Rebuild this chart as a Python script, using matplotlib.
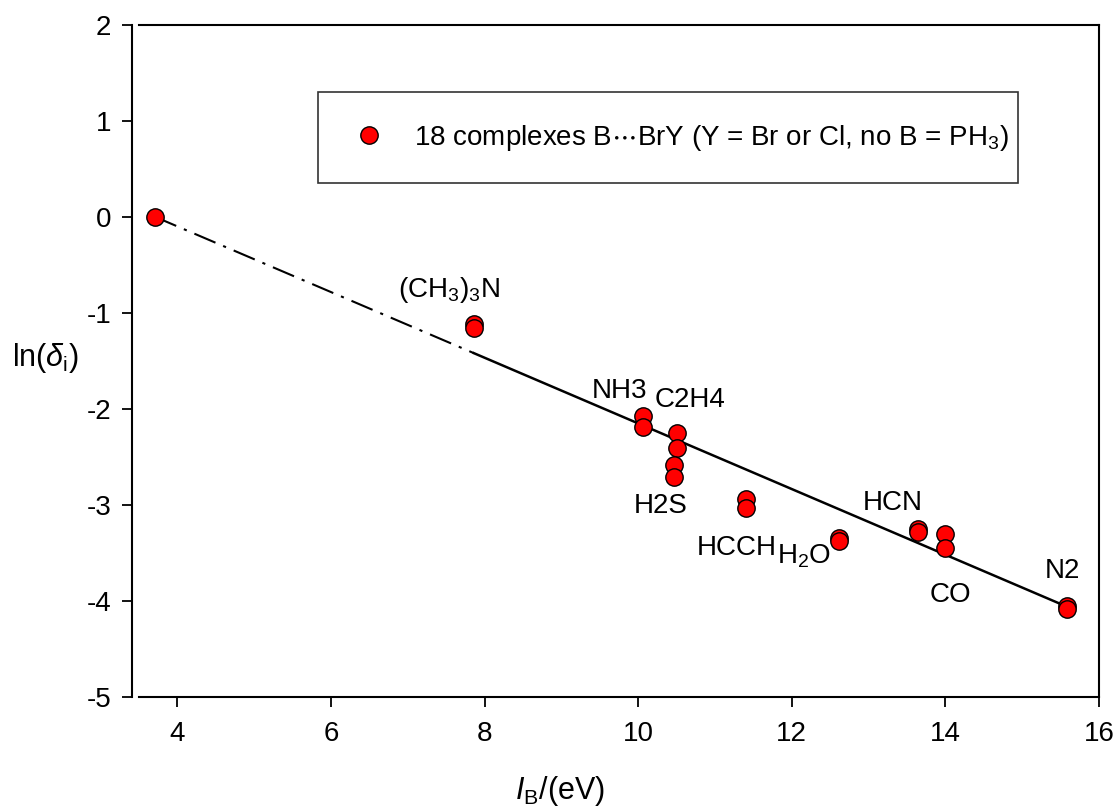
import numpy as np
import matplotlib
matplotlib.use("Agg")
import matplotlib.pyplot as plt

plt.rcParams['font.family'] = ['Liberation Sans', 'DejaVu Sans']
plt.rcParams['mathtext.fontset'] = 'custom'
plt.rcParams['mathtext.rm'] = 'Liberation Sans'
plt.rcParams['mathtext.it'] = 'Liberation Sans:italic'
plt.rcParams['axes.unicode_minus'] = False

# data
ib = [3.71, 7.86, 7.86, 10.06, 10.06, 10.51, 10.51, 10.46, 10.46,
      11.41, 11.41, 12.61, 12.61, 13.64, 13.64, 14.00, 14.00, 15.58, 15.58]
ln_delta = [0.0, -1.11, -1.16, -2.07, -2.19, -2.25, -2.41, -2.58, -2.71,
            -2.94, -3.03, -3.34, -3.38, -3.25, -3.28, -3.30, -3.45, -4.05, -4.08]

# fitted line
intercept = 1.27
slope = -0.342
x_dash = [3.71, 7.86]
x_solid = [7.86, 15.58]

labels = ["(CH$_3$)$_3$N", "NH3", "C2H4", "H2S", "HCCH", "H$_2$O", "HCN", "CO", "N2"]
label_x = [7.54, 9.76, 10.68, 10.29, 11.28, 12.16, 13.32, 14.07, 15.52]
label_y = [-0.76, -1.81, -1.91, -3.01, -3.45, -3.53, -2.98, -3.94, -3.69]

fig = plt.figure(figsize=(11.16, 8.11), dpi=100)
ax = fig.add_axes([139/1116, 1-697/811, 960/1116, 672/811])

xd = np.array(x_dash)
xs = np.array(x_solid)
ax.plot(xd, intercept + slope*xd, color='black', lw=1.5, dashes=[11, 4, 1.5, 4])
ax.plot(xs, intercept + slope*xs, color='black', lw=1.8)

ax.plot(ib, ln_delta, 'o', ms=12.5, mfc='#ff0000', mec='black', mew=1.0,
        label="18 complexes B$\\cdots$BrY (Y = Br or Cl, no B = PH$_3$)", zorder=3)

for t, lx, ly in zip(labels, label_x, label_y):
    ax.text(lx, ly, t, fontsize=20, ha='center', va='center')

ax.set_xlim(3.5, 16)
ax.set_ylim(-5, 2)
ax.set_xticks([4, 6, 8, 10, 12, 14, 16])
ax.set_yticks([-5, -4, -3, -2, -1, 0, 1, 2])
ax.tick_params(direction='out', length=7, width=1.3, labelsize=20, pad=10)
ax.tick_params(axis='y', pad=8)
ax.tick_params(top=False, right=False)
ax.spines['left'].set_position(('outward', 5))
for s in ax.spines.values():
    s.set_linewidth(1.5)

ax.set_xlabel("$I_{\\rm B}$/(eV)", fontsize=22)
ax.xaxis.set_label_coords(0.438, -0.115)
ax.set_ylabel("ln($\\delta_{\\rm i}$)", fontsize=22, rotation=0, va='center', ha='center')
ax.yaxis.set_label_coords(-0.097, 0.505)

leg = ax.legend(loc='center', bbox_to_anchor=(0.1865, 0.765, 0.729, 0.135),
                mode='expand', fontsize=20, frameon=True, fancybox=False,
                borderpad=1.1, borderaxespad=0, handletextpad=0.85, handlelength=1.5)
leg.get_frame().set_edgecolor('black')
leg.get_frame().set_linewidth(1.2)

fig.savefig("out.png", dpi=100)
